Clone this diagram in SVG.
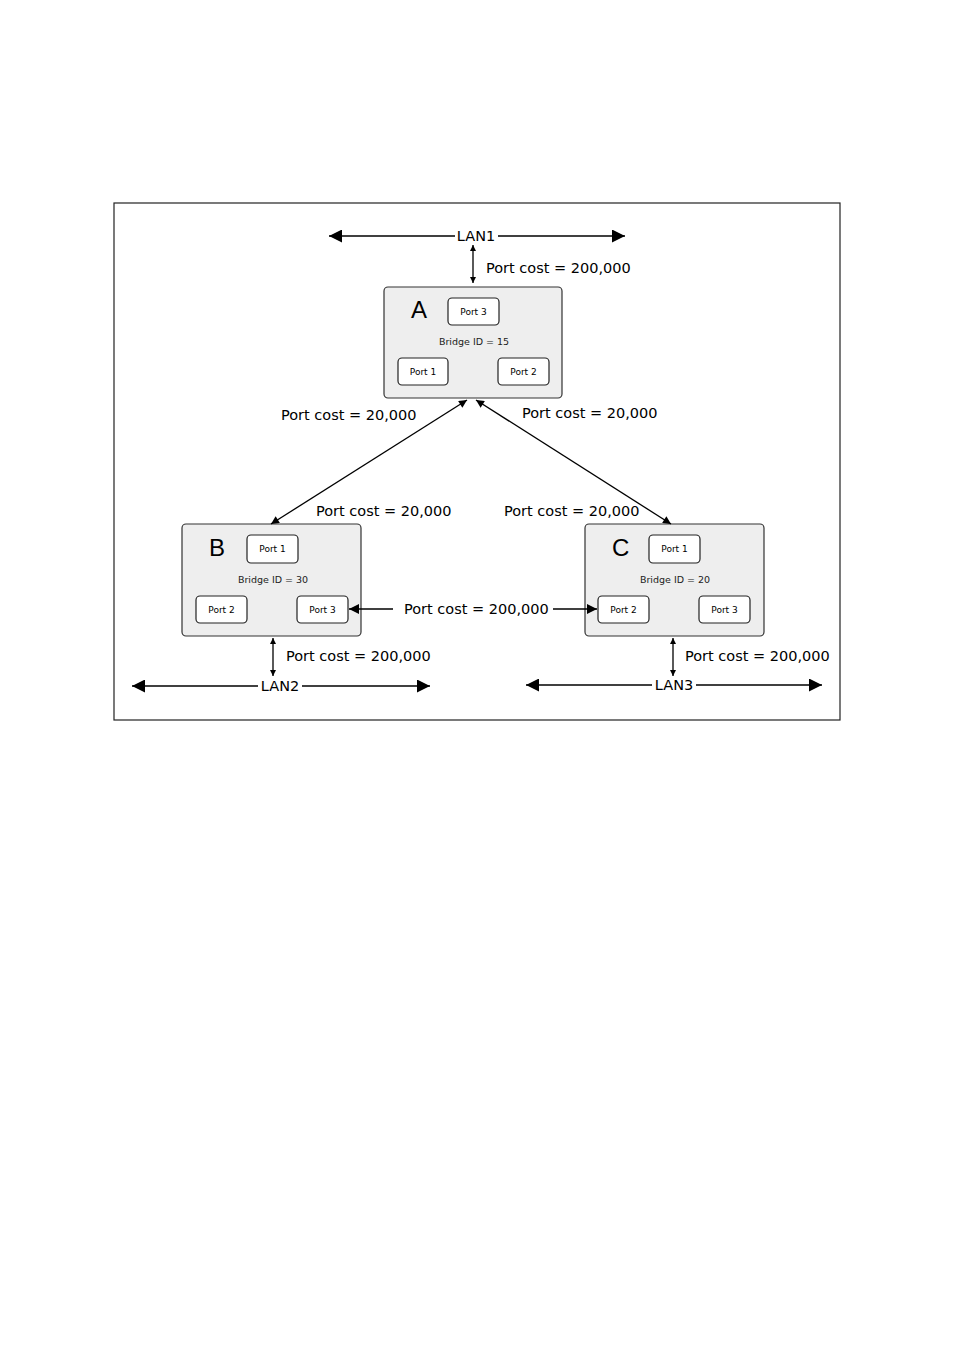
<svg xmlns="http://www.w3.org/2000/svg" width="954" height="1350" viewBox="0 0 954 1350">
<defs>
<marker id="big" viewBox="0 0 10 10" refX="10" refY="5" markerUnits="userSpaceOnUse" markerWidth="17" markerHeight="13" orient="auto-start-reverse"><path d="M0,0 L10,5 L0,10 z" fill="#000"/></marker>
<marker id="med" viewBox="0 0 10 10" refX="10" refY="5" markerUnits="userSpaceOnUse" markerWidth="15" markerHeight="10" orient="auto-start-reverse"><path d="M0,0 L10,5 L0,10 z" fill="#000"/></marker>
<marker id="diag" viewBox="0 0 10 10" refX="10" refY="5" markerUnits="userSpaceOnUse" markerWidth="12" markerHeight="8" orient="auto-start-reverse"><path d="M0,0 L10,5 L0,10 z" fill="#000"/></marker>
<marker id="small" viewBox="0 0 10 10" refX="10" refY="5" markerUnits="userSpaceOnUse" markerWidth="7" markerHeight="6" orient="auto-start-reverse"><path d="M0,0 L10,5 L0,10 z" fill="#000"/></marker>
</defs>
<style>
.frame{fill:#fff;stroke:#222;stroke-width:1.2}
.bridge{fill:#eeeeee;stroke:#333;stroke-width:1.2}
.port{fill:#fff;stroke:#222;stroke-width:1.2}
.ln{stroke:#000;stroke-width:1.3;fill:none}
.t{font-family:"DejaVu Sans",Verdana,sans-serif;font-size:14.5px;fill:#000}
.pt{font-family:"DejaVu Sans",Verdana,sans-serif;font-size:9px;fill:#000;text-anchor:middle}
.bid{font-family:"DejaVu Sans",Verdana,sans-serif;font-size:9.5px;fill:#222;text-anchor:middle}
.big{font-family:"Liberation Sans",Arial,sans-serif;font-size:24px;fill:#000}
</style>
<rect width="954" height="1350" fill="#fff"/>
<rect class="frame" x="114" y="203" width="726" height="517"/>

<g id="bridgeA">
<rect class="bridge" x="384" y="287" width="178" height="111" rx="4"/>
<text class="big" x="411" y="318">A</text>
<rect class="port" x="448" y="298" width="51" height="27" rx="4"/>
<text class="pt" x="473.5" y="315">Port 3</text>
<text class="bid" x="474" y="345">Bridge ID = 15</text>
<rect class="port" x="398" y="358" width="50" height="27" rx="4"/>
<text class="pt" x="423" y="375">Port 1</text>
<rect class="port" x="498" y="358" width="51" height="27" rx="4"/>
<text class="pt" x="523.5" y="375">Port 2</text>
</g>

<g id="bridgeB">
<rect class="bridge" x="182" y="524" width="179" height="112" rx="4"/>
<text class="big" x="209" y="556">B</text>
<rect class="port" x="247" y="535" width="51" height="28" rx="4"/>
<text class="pt" x="272.5" y="552">Port 1</text>
<text class="bid" x="273" y="583">Bridge ID = 30</text>
<rect class="port" x="196" y="596" width="51" height="27" rx="4"/>
<text class="pt" x="221.5" y="613">Port 2</text>
<rect class="port" x="297" y="596" width="51" height="27" rx="4"/>
<text class="pt" x="322.5" y="613">Port 3</text>
</g>

<g id="bridgeC">
<rect class="bridge" x="585" y="524" width="179" height="112" rx="4"/>
<text class="big" x="612" y="556">C</text>
<rect class="port" x="649" y="535" width="51" height="28" rx="4"/>
<text class="pt" x="674.5" y="552">Port 1</text>
<text class="bid" x="675" y="583">Bridge ID = 20</text>
<rect class="port" x="598" y="596" width="51" height="27" rx="4"/>
<text class="pt" x="623.5" y="613">Port 2</text>
<rect class="port" x="699" y="596" width="51" height="27" rx="4"/>
<text class="pt" x="724.5" y="613">Port 3</text>
</g>

<g id="connectors">
<line class="ln" x1="329" y1="236" x2="455" y2="236" marker-start="url(#big)"/>
<line class="ln" x1="498" y1="236" x2="625" y2="236" marker-end="url(#big)"/>
<line class="ln" x1="473" y1="245" x2="473" y2="283" marker-start="url(#small)" marker-end="url(#small)"/>
<line class="ln" x1="467" y1="400" x2="271" y2="524" marker-start="url(#diag)" marker-end="url(#diag)"/>
<line class="ln" x1="476" y1="400" x2="671" y2="524" marker-start="url(#diag)" marker-end="url(#diag)"/>
<line class="ln" x1="393" y1="609" x2="349" y2="609" marker-end="url(#med)"/>
<line class="ln" x1="553" y1="609" x2="597" y2="609" marker-end="url(#med)"/>
<line class="ln" x1="273" y1="638" x2="273" y2="676" marker-start="url(#small)" marker-end="url(#small)"/>
<line class="ln" x1="132" y1="686" x2="258" y2="686" marker-start="url(#big)"/>
<line class="ln" x1="302" y1="686" x2="430" y2="686" marker-end="url(#big)"/>
<line class="ln" x1="673" y1="638" x2="673" y2="676" marker-start="url(#small)" marker-end="url(#small)"/>
<line class="ln" x1="526" y1="685" x2="652" y2="685" marker-start="url(#big)"/>
<line class="ln" x1="696" y1="685" x2="822" y2="685" marker-end="url(#big)"/>
</g>

<g id="labels">
<text class="t" x="476" y="241" text-anchor="middle">LAN1</text>
<text class="t" x="486" y="273">Port cost = 200,000</text>
<text class="t" x="281" y="420">Port cost = 20,000</text>
<text class="t" x="522" y="418">Port cost = 20,000</text>
<text class="t" x="316" y="516">Port cost = 20,000</text>
<text class="t" x="504" y="516">Port cost = 20,000</text>
<text class="t" x="404" y="614">Port cost = 200,000</text>
<text class="t" x="286" y="661">Port cost = 200,000</text>
<text class="t" x="280" y="691" text-anchor="middle">LAN2</text>
<text class="t" x="685" y="661">Port cost = 200,000</text>
<text class="t" x="674" y="690" text-anchor="middle">LAN3</text>
</g>
</svg>
